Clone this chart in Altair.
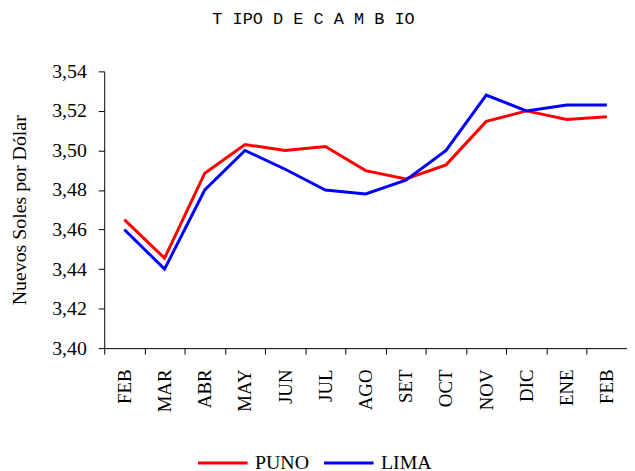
import altair as alt
import pandas as pd

months = ["FEB", "MAR", "ABR", "MAY", "JUN", "JUL", "AGO", "SET", "OCT", "NOV", "DIC", "ENE", "FEB"]
puno = [3.465, 3.4455, 3.4885, 3.503, 3.500, 3.502, 3.4898, 3.4856, 3.4927, 3.5147, 3.520, 3.5157, 3.517]
lima = [3.460, 3.440, 3.480, 3.500, 3.4905, 3.480, 3.478, 3.485, 3.500, 3.528, 3.520, 3.523, 3.523]

rows = []
for i, m in enumerate(months):
    rows.append({"idx": i, "mes": m, "serie": "PUNO", "valor": puno[i]})
for i, m in enumerate(months):
    rows.append({"idx": i, "mes": m, "serie": "LIMA", "valor": lima[i]})
df = pd.DataFrame(rows)

label_expr = "[" + ",".join("'" + m + "'" for m in months) + "][datum.value]"

serif = "Liberation Serif"

chart = alt.Chart(df).mark_line(strokeWidth=3).encode(
    x=alt.X(
        "idx:O",
        scale=alt.Scale(type="band", paddingInner=0, paddingOuter=0),
        bandPosition=0.5,
        axis=alt.Axis(
            title=None,
            labelExpr=label_expr,
            labelAngle=-90,
            labelAlign="right",
            labelBaseline="middle",
            labelFont=serif,
            labelFontSize=19,
            labelColor="black",
            labelPadding=15,
            tickBand="extent",
            tickColor="black",
            tickSize=6,
            domainColor="black",
            grid=False,
        ),
    ),
    y=alt.Y(
        "valor:Q",
        scale=alt.Scale(domain=[3.40, 3.54], nice=False, zero=False),
        axis=alt.Axis(
            title="Nuevos Soles por Dólar",
            titleFont=serif,
            titleFontSize=20,
            titleFontWeight="normal",
            titleColor="black",
            titlePadding=22,
            values=[3.40, 3.42, 3.44, 3.46, 3.48, 3.50, 3.52, 3.54],
            labelExpr="replace(format(datum.value, '.2f'), '.', ',')",
            labelFont=serif,
            labelFontSize=20,
            labelColor="black",
            labelPadding=12,
            tickColor="black",
            tickSize=6,
            domainColor="black",
            grid=False,
        ),
    ),
    color=alt.Color(
        "serie:N",
        scale=alt.Scale(domain=["PUNO", "LIMA"], range=["#FF0000", "#0000FF"]),
        legend=alt.Legend(
            title=None,
            orient="none",
            direction="horizontal",
            legendX=93,
            legendY=368,
            padding=0,
            symbolType="stroke",
            symbolSize=2500,
            symbolStrokeWidth=3,
            labelFont=serif,
            labelFontSize=20,
            labelColor="black",
            columnPadding=8,
            labelOffset=6,
        ),
    ),
    order=alt.Order("serie:N", sort="descending"),
).properties(
    width=527,
    height=279,
    autosize=alt.AutoSizeParams(type="none"),
    padding={"left": 97, "top": 62, "right": 0, "bottom": 126},
    title=alt.TitleParams(
        "T IPO  D E C A M B IO",
        font="Liberation Mono",
        fontSize=17,
        fontWeight="normal",
        color="black",
        anchor="start",
        dx=204,
        offset=34,
    ),
).configure_view(stroke=None)

chart.save("out.html", embed_options={"renderer": "svg", "actions": False})
